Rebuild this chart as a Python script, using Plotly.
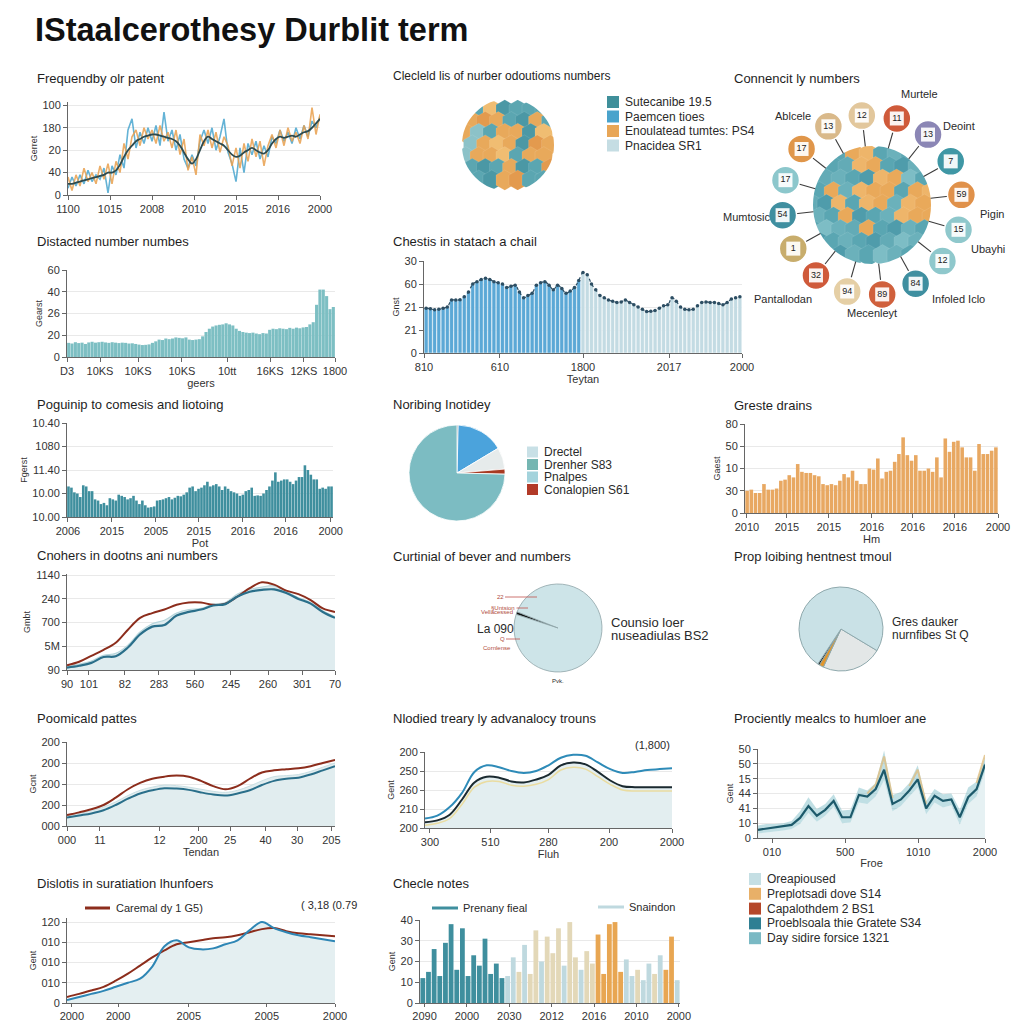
import math
import plotly.graph_objects as go

W = H = 1024
OFF = 8  # page body margin compensation
FONT = "Liberation Sans, Arial, sans-serif"

# ---------------- DATA ----------------
# P1 Frequendby olr patent
p1_trend = [0.5,0.5,0.55,0.6,0.65,0.7,0.75,0.8,0.85,0.9,1.0,1.0,1.1,1.35,1.7,2.0,2.2,2.4,2.5,2.6,
            2.65,2.7,2.7,2.65,2.6,2.55,2.5,2.4,2.2,1.9,1.6,1.4,1.6,2.0,2.4,2.6,2.5,2.4,2.3,2.2,
            2.0,1.8,1.7,1.75,1.9,2.0,2.1,2.0,1.9,1.85,2.0,2.3,2.5,2.6,2.55,2.6,2.65,2.6,2.7,2.8,
            2.85,3.0,3.2,3.4]
p1_blue = [0.3,0.8,0.4,0.9,0.5,1.1,0.6,0.9,0.7,1.2,0.1,1.3,0.9,1.8,1.2,2.9,3.4,2.1,2.8,2.3,
           3.0,2.4,3.1,2.2,3.7,2.4,2.9,2.0,2.7,1.6,1.2,1.8,1.3,2.4,2.9,2.3,3.0,2.0,2.6,3.4,
           1.9,1.4,0.6,2.1,1.0,2.3,1.8,2.4,1.6,2.2,1.7,2.6,2.3,2.9,2.4,2.8,2.3,3.0,2.5,3.1,
           2.6,3.3,3.0,3.5]
p1_orange = [0.8,0.2,0.9,0.4,1.2,0.6,1.0,0.5,1.3,0.7,1.4,0.5,1.5,1.0,2.3,1.6,2.6,2.9,2.2,3.0,
             2.5,2.9,2.3,3.1,2.4,2.8,2.1,2.9,1.8,2.5,1.1,1.7,0.9,2.7,2.2,2.9,2.1,2.8,1.9,2.6,
             2.2,1.3,2.1,1.2,2.3,1.5,2.5,1.7,2.4,1.3,2.2,2.7,2.1,2.9,2.2,3.0,2.4,2.8,2.3,3.1,
             2.5,3.9,2.7,3.6]
p1_xticks = ["1100","1015","2008","2010","2015","2016","2000"]
p1_yticks = ["0","40","20","180","100"]

# P2 mosaic disc (patch colour codes, rows top -> bottom)
p2_codes = [[0,0,5,3,0,0,0],
            [1,4,1,0,3,1,0],
            [1,2,0,1,1,3,5],
            [2,1,5,1,3,4,1],
            [2,1,1,5,0,1,1],
            [0,3,0,1,3,0,4],
            [0,0,3,1,4,0,0]]
p2_palette = ['#5ba6b1','#e8a95b','#8cc2c8','#4b98a5','#e39a4e','#f0bd72']
p2_xticks = ["0/0","5/17","2000"]
p2_yticks = ["0","16","20","30","60","80"]
p2_legend = ["Sutecanibe 19.5","Paemcen tioes","Enoulatead tumtes: PS4","Pnacidea SR1"]
p2_legend_colors = ['#3f8f9a','#4aa3cc','#e8a657','#c5dde3']

# P3 globe (patch colour codes, rows top -> bottom)
p3_codes = [[0,1,0,4,5,0,1,0,6],
            [1,0,6,5,4,0,2,1,0],
            [2,6,1,0,2,5,4,3,0],
            [0,4,1,5,4,4,0,4,5],
            [6,2,5,0,5,4,1,5,4],
            [1,0,4,2,0,1,5,4,4],
            [0,3,1,6,4,0,2,1,0],
            [2,0,1,0,2,6,3,1,2],
            [0,1,2,1,0,3,1,0,6]]
p3_palette = ['#5aa6b2','#6bb1bb','#4f9cab','#7dbdc5','#e9a95a','#eeb56a','#63abb6']
p3_values = ["13","12","11","13","7","59","15","12","84","89","94","32","1","54","17","17"]
p3_colors = ['#d9b98a','#e2c79c','#cf5a3a','#8b86b5','#3f97a5','#e0914a','#8fc8cc','#8fc8cc',
             '#3f8fa0','#d0603c','#e5cfa5','#cf5a3a','#c8ad6c','#3f8fa0','#8cc7cc','#e0964a']
p3_names = ["Murtele","Ablcele","Deoint","Mumtosic","Pigin","Ubayhi","Pantallodan","Infoled Iclo","Mecenleyt"]

# P4 Distacted number numbes
p4_vals = [0.65,0.62,0.68,0.64,0.66,0.6,0.67,0.7,0.66,0.68,
           0.7,0.67,0.65,0.68,0.66,0.64,0.66,0.65,0.62,0.63,
           0.6,0.57,0.55,0.56,0.58,0.65,0.72,0.8,0.78,0.85,
           0.82,0.85,0.9,0.88,0.86,0.9,0.8,0.78,0.8,0.82,
           0.95,1.15,1.3,1.4,1.45,1.48,1.5,1.55,1.5,1.45,
           1.3,1.2,1.15,1.12,1.1,1.12,1.08,1.05,1.1,1.08,
           1.25,1.3,1.28,1.32,1.3,1.28,1.34,1.3,1.35,1.32,
           1.36,1.38,1.5,1.6,2.4,3.1,3.1,2.8,2.2,2.3]
p4_xticks = ["D3","10KS","10KS","10KS","10tt","16KS","12KS","1800"]
p4_yticks = ["0","20","26","40","60"]

# P5 Chestis in statach a chail
p5_blue = [1.95,1.92,1.88,1.9,1.95,2.0,2.3,2.3,2.32,2.45,
           2.65,3.0,3.1,3.2,3.25,3.2,3.1,3.05,3.0,2.85,
           2.9,2.95,2.65,2.4,2.5,2.6,2.95,3.05,3.1,2.95,
           2.75,2.95,2.8,2.6,2.7,2.85,3.15]
p5_light = [3.5,3.4,3.0,2.75,2.5,2.4,2.3,2.25,2.2,2.22,
            2.3,2.2,2.1,2.0,1.9,1.8,1.82,1.85,1.95,2.05,
            2.1,2.4,2.25,2.0,1.9,1.88,1.9,2.05,2.2,2.22,
            2.2,2.2,2.15,2.1,2.2,2.35,2.4,2.45]
p5_xticks = ["810","610","1800","2017","2000"]
p5_yticks = ["0","21","21","60","30"]

# P6 Poguinip to comesis and liotoing
p6_vals = [1.3,1.25,1.05,1.0,0.85,1.35,1.3,1.1,1.1,0.75,
           0.7,0.55,0.6,0.5,0.8,0.75,0.7,0.95,0.9,0.85,
           0.75,0.8,0.9,0.7,0.55,0.7,0.5,0.4,0.42,0.45,
           0.7,0.72,0.75,0.8,0.85,0.75,0.82,0.9,0.88,0.95,
           1.05,1.25,1.3,1.1,1.2,1.25,1.35,1.5,1.3,1.35,
           1.4,1.3,1.15,1.3,1.2,1.1,1.05,1.0,0.9,0.95,
           1.1,1.15,1.25,0.9,0.92,0.9,1.0,1.15,1.3,1.55,
           1.9,1.5,1.55,1.6,1.6,1.5,1.4,1.55,1.7,1.7,
           2.2,2.0,1.8,1.6,1.6,1.2,1.25,1.2,1.3,1.3]
p6_xticks = ["2006","2015","2005","2015","2016","2016","2000"]
p6_yticks = ["10.00","10.00","11.40","1080","10.40"]

# P7 Noribing Inotidey (pie)
p7_labels = ["edge","blue","grey","red","teal"]
p7_values = [0.4, 16.0, 7.3, 1.7, 74.6]
p7_colors = ['#1c2b33','#4ba3dc','#e6ebeb','#a83a22','#7cbcc2']
p7_legend = ["Drectel","Drenher S83","Pnalpes","Conalopien S61"]
p7_legend_colors = ['#c8e0e6','#75b6b2','#a3d3dc','#b23a28']

# P8 Greste drains
p8_vals = [1.0,1.05,0.9,0.9,1.3,1.05,1.05,1.1,1.45,1.5,
           1.7,1.6,2.2,1.85,1.8,1.8,1.7,1.65,1.3,1.25,
           1.3,1.25,1.45,1.75,1.6,1.9,1.45,1.3,1.3,2.0,
           1.95,2.45,1.55,1.85,1.9,2.3,2.65,3.4,2.6,2.35,
           2.6,1.9,1.9,2.0,1.85,2.5,1.6,3.35,2.75,3.2,
           3.25,2.95,2.5,2.5,1.9,3.1,2.65,2.65,2.8,2.95]
p8_xticks = ["2010","2015","2015","2016","2016","2016","2000"]
p8_yticks = ["0","30","10","50","80"]

# P9 Cnohers in dootns ani numbers
p9_red = [0.2,0.35,0.6,0.85,1.15,1.7,2.2,2.4,2.55,2.75,2.85,2.85,2.75,2.8,3.1,3.45,3.7,3.6,3.35,3.2,2.95,2.6,2.45]
p9_teal = [0.1,0.18,0.3,0.55,0.58,0.95,1.5,1.83,1.9,2.3,2.45,2.55,2.72,2.78,3.1,3.3,3.38,3.4,3.25,3.0,2.8,2.45,2.2]
p9_band = [0.15,0.25,0.38,0.62,0.7,1.05,1.6,1.95,2.1,2.4,2.55,2.6,2.78,2.85,3.2,3.4,3.5,3.55,3.3,3.05,2.85,2.5,2.25]
p9_xticks = ["90","101","82","283","560","245","260","301","70"]
p9_yticks = ["90","5M","700","240","1140"]

# P10 Curtinial of bever and numbers (dial)
p10_values = [1.0, 99.0]
p10_colors = ['#111111','#cde4e8']
p10_labels = ["22","§Untsion","Vellacessed","Q","Cornlense"]

# P11 Prop loibing hentnest tmoul
p11_values = [23.3, 1.7, 0.7, 74.3]
p11_colors = ['#e3e7e7','#e0962e','#1a1a1a','#c9e1e6']
p11_yticks = ["10","20","4","30","40"]

# P12 Poomicald pattes
p12_red = [0.52,0.65,0.8,1.0,1.35,1.75,2.05,2.25,2.35,2.4,2.35,2.15,1.9,1.75,1.9,2.25,2.55,2.65,2.7,2.75,2.85,3.0,3.15]
p12_teal = [0.4,0.5,0.6,0.75,1.0,1.3,1.55,1.7,1.8,1.78,1.72,1.6,1.5,1.45,1.55,1.7,1.95,2.15,2.25,2.3,2.45,2.65,2.85]
p12_band = [0.5,0.6,0.72,0.9,1.15,1.45,1.7,1.85,1.95,1.92,1.85,1.75,1.65,1.6,1.7,1.9,2.15,2.35,2.4,2.45,2.6,2.8,3.0]
p12_xticks = ["000","11","12","200","25","40","30","205"]
p12_yticks = ["000","200","200","200","200"]

# P13 Nlodied treary ly advanalocy trouns
p13_blue = [0.5,0.65,1.1,1.85,2.95,3.3,3.2,3.0,2.9,3.0,3.3,3.7,3.85,3.8,3.45,3.1,2.9,2.95,3.05,3.1,3.15]
p13_black = [0.3,0.4,0.7,1.5,2.4,2.7,2.65,2.45,2.4,2.55,2.8,3.3,3.45,3.35,2.95,2.5,2.2,2.15,2.15,2.15,2.15]
p13_yellow = [0.15,0.25,0.5,1.25,2.15,2.45,2.45,2.25,2.2,2.3,2.55,3.05,3.2,3.1,2.7,2.3,2.0,1.95,1.95,1.95,1.95]
p13_xticks = ["300","510","280","200","2000"]
p13_yticks = ["200","210","260","250","200"]

# P14 Prociently mealcs to humloer ane
p14_line = [0.55,0.63,0.7,0.78,0.88,1.35,2.15,1.5,1.9,2.5,1.4,1.4,2.9,2.8,3.3,4.6,2.3,2.6,3.2,3.95,2.0,2.85,2.5,2.6,1.4,2.75,3.3,4.95]
p14_upper = [0.85,0.95,0.95,1.0,1.15,1.8,2.75,1.95,2.3,2.95,1.85,1.9,3.4,3.2,3.7,5.9,2.9,3.1,3.7,4.9,2.5,3.3,2.95,3.0,1.9,3.4,3.8,5.4]
p14_lower = [0.3,0.35,0.45,0.5,0.6,0.95,1.7,1.1,1.5,2.1,1.0,1.05,2.4,2.3,2.8,3.9,1.8,2.15,2.8,3.4,1.6,2.4,2.05,2.2,0.9,2.3,2.8,4.5]
p14_warm = [None,None,None,None,None,None,None,None,None,None,None,None,None,3.0,3.6,5.5,2.7,None,3.5,4.6,2.3,None,None,None,None,None,3.7,5.6]
p14_xticks = ["010","500","1010","2000"]
p14_yticks = ["0","10","41","44","15","50","50"]
p14_legend = ["Oreapioused","Preplotsadi dove S14","Capalothdem 2 BS1","Proeblsoala thie Gratete S34","Day sidire forsice 1321"]
p14_legend_colors = ['#c5dfe4','#e8b068','#b5472a','#2f7f93','#7ab9c4']

# P15 Dislotis in suratiation lhunfoers
p15_red = [0.3,0.45,0.62,0.8,1.1,1.45,1.85,2.25,2.6,2.9,3.0,3.1,3.2,3.25,3.35,3.5,3.65,3.7,3.55,3.45,3.4,3.35,3.3]
p15_blue = [0.15,0.3,0.45,0.6,0.8,1.0,1.2,1.8,2.8,3.1,2.75,2.65,2.7,2.9,3.1,3.6,4.0,3.7,3.5,3.35,3.25,3.15,3.05]
p15_xticks = ["2000","2000","2005","2005","2000"]
p15_yticks = ["0","010","010","010","120"]

# P16 Checle notes
p16_vals = [1.2,1.5,2.6,1.3,2.9,3.8,1.6,3.6,1.3,2.3,1.8,3.1,1.4,1.9,1.2,
            1.3,2.2,1.5,2.8,1.4,3.5,2.0,3.2,2.4,3.6,1.8,3.9,2.2,1.6,2.5,1.9,
            3.3,1.4,3.8,3.9,1.5,2.1,1.3,1.6,1.1,1.9,1.4,2.3,1.6,3.2,1.1]
p16_group = [0,0,0,0,0,0,0,0,0,0,0,0,0,0,0,
             2,2,1,2,1,1,2,1,1,1,2,1,1,2,1,1,
             3,3,3,3,3,2,2,1,2,2,1,2,3,3,2]
p16_palette = ['#3f8f9e','#e3d8b8','#bfd9df','#e8a652']
p16_xticks = ["2090","2000","2030","2012","2016","2010","2000"]
p16_yticks = ["0","10","20","30","40"]

# ---------------- FIGURE ----------------
fig = go.Figure()
annotations = []
shapes = []


def PX(a):
    return (a - OFF) / W


def PY(b):
    return 1 - (b - OFF) / H


AX = dict(showline=True, linecolor='#666', linewidth=1, ticks='outside', ticklen=4,
          tickcolor='#666', tickfont=dict(size=11, color='#333', family=FONT),
          zeroline=False, fixedrange=True, automargin=False, tickangle=0)


def refs(n):
    return ('x' if n == 1 else f'x{n}'), ('y' if n == 1 else f'y{n}')


def add_panel(n, left, top, right, bottom, xr, yr, xt=None, yt=None, xtitle=None,
              ytitle=None, grid=True, xshow=True, visible=True):
    xk = 'xaxis' if n == 1 else f'xaxis{n}'
    yk = 'yaxis' if n == 1 else f'yaxis{n}'
    xr_, yr_ = refs(n)
    if not visible:
        fig.update_layout({xk: dict(domain=[PX(left), PX(right)], range=xr, anchor=yr_, visible=False,
                                    fixedrange=True, automargin=False),
                           yk: dict(domain=[PY(bottom), PY(top)], range=yr, anchor=xr_, visible=False,
                                    fixedrange=True, automargin=False)})
        return
    xa = dict(AX)
    xa.update(domain=[PX(left), PX(right)], range=xr, anchor=yr_, showgrid=False, showline=xshow)
    if xt is not None:
        xa.update(tickmode='array', tickvals=xt[0], ticktext=xt[1])
    if xtitle:
        xa.update(title=dict(text=xtitle, font=dict(size=11, color='#333', family=FONT), standoff=2))
    ya = dict(AX)
    ya.update(domain=[PY(bottom), PY(top)], range=yr, anchor=xr_, showgrid=grid, gridcolor='#e9e9e9')
    if yt is not None:
        ya.update(tickmode='array', tickvals=yt[0], ticktext=yt[1])
    if ytitle:
        ya.update(title=dict(text=ytitle, font=dict(size=9, color='#333', family=FONT), standoff=3))
    fig.update_layout({xk: xa, yk: ya})


def title(text, x, y, size=13):
    annotations.append(dict(text=text, x=PX(x), y=PY(y), xref='paper', yref='paper',
                            xanchor='left', yanchor='middle', showarrow=False, borderpad=0,
                            font=dict(size=size, color='#1e1e1e', family=FONT)))


def label(text, x, y, size=12, color='#2a2a2a', anchor='left'):
    annotations.append(dict(text=text, x=PX(x), y=PY(y), xref='paper', yref='paper',
                            xanchor=anchor, yanchor='middle', showarrow=False, borderpad=0,
                            font=dict(size=size, color=color, family=FONT)))


def legend_block(names, colors, x, y0, dy, size=13, fsize=12):
    for i, (nm, c) in enumerate(zip(names, colors)):
        yc = y0 + i * dy
        shapes.append(dict(type='rect', xref='paper', yref='paper',
                           x0=PX(x), x1=PX(x + size), y0=PY(yc + size / 2), y1=PY(yc - size / 2),
                           fillcolor=c, line=dict(width=0)))
        label(nm, x + size + 5, yc, size=fsize)


def line_key(x0, x1, y, color, width=3):
    shapes.append(dict(type='line', xref='paper', yref='paper', x0=PX(x0), x1=PX(x1),
                       y0=PY(y), y1=PY(y), line=dict(color=color, width=width)))


def hex_mosaic(xa, ya, codes, palette, radius, step):
    """Honeycomb of colour patches inside a disc (axis units = pixels, disc centred at 0,0)."""
    rows = len(codes)
    xs, ys, cs = [], [], []
    for i, row in enumerate(codes):
        cols = len(row)
        for j, c in enumerate(row):
            x = (j - (cols - 1) / 2 + (0.25 if i % 2 else -0.25)) * step
            y = ((rows - 1) / 2 - i) * step * 0.9
            if math.hypot(x, y) <= radius + step * 0.45:
                xs.append(x); ys.append(y); cs.append(palette[c])
    fig.add_trace(go.Scatter(x=xs, y=ys, xaxis=xa, yaxis=ya, mode='markers', cliponaxis=False,
                             marker=dict(symbol='hexagon', size=step * 1.55, color=cs,
                                         line=dict(color='rgba(255,255,255,0.2)', width=0.5)),
                             showlegend=False, hoverinfo='skip'))
    ring = 20
    fig.add_trace(go.Scatter(x=[0], y=[0], xaxis=xa, yaxis=ya, mode='markers', cliponaxis=False,
                             marker=dict(symbol='circle', size=2 * radius + ring, color='rgba(0,0,0,0)',
                                         line=dict(color='white', width=ring)),
                             showlegend=False, hoverinfo='skip'))


# ---- main title
annotations.append(dict(text="<b>IStaalcerothesy Durblit term</b>", x=PX(34), y=PY(30), xref='paper',
                        yref='paper', xanchor='left', yanchor='middle', showarrow=False, borderpad=0,
                        font=dict(size=32.5, color='#111', family=FONT)))

# ---- P1
n1 = len(p1_trend)
add_panel(1, 68, 102, 320, 195, [0, n1 - 1], [0, 4.15],
          xt=([k * (n1 - 1) / 6 for k in range(7)], p1_xticks), yt=(list(range(5)), p1_yticks), ytitle="Gerret")
xs = list(range(n1))
fig.add_trace(go.Scatter(x=xs, y=p1_blue, mode='lines', line=dict(color='#4aa6cf', width=1.6), opacity=0.85, showlegend=False))
fig.add_trace(go.Scatter(x=xs, y=p1_orange, mode='lines', line=dict(color='#e9a04e', width=1.6), opacity=0.85, showlegend=False))
fig.add_trace(go.Scatter(x=xs, y=p1_trend, mode='lines', line=dict(color='#2c4a4f', width=1.8, shape='spline'), showlegend=False))
title("Frequendby olr patent", 36, 78)

# ---- P2
add_panel(2, 422, 102, 591, 192, [0, 2], [0, 5],
          xt=([0, 1, 2], p2_xticks), yt=(list(range(6)), p2_yticks), ytitle="Gnss")
add_panel(15, 462, 99, 554, 191, [-46, 46], [-46, 46], visible=False)
hex_mosaic('x15', 'y15', p2_codes, p2_palette, 46, 13)
title("Clecleld lis of nurber odoutioms numbers", 392, 76, size=12)
legend_block(p2_legend, p2_legend_colors, 607, 102, 14.5, size=12, fsize=12)

# ---- P3 globe
add_panel(3, 740, 80, 1010, 330, [-132, 138], [-125, 125], visible=False)
hex_mosaic('x3', 'y3', p3_codes, p3_palette, 59, 14)
nb = len(p3_values)
R = 90
bx, by, lx, ly = [], [], [], []
for i in range(nb):
    a = math.radians(119 - 22.5 * i)
    bx.append(R * math.cos(a)); by.append(R * math.sin(a))
    lx += [59 * math.cos(a), 77 * math.cos(a), None]
    ly += [59 * math.sin(a), 77 * math.sin(a), None]
fig.add_trace(go.Scatter(x=lx, y=ly, xaxis='x3', yaxis='y3', mode='lines',
                         line=dict(color='#3b3b3b', width=1.1), showlegend=False, hoverinfo='skip'))
fig.add_trace(go.Scatter(x=bx, y=by, xaxis='x3', yaxis='y3', mode='markers',
                         marker=dict(size=28, color=p3_colors, line=dict(color='white', width=1.5)),
                         showlegend=False, hoverinfo='skip'))
fig.add_trace(go.Scatter(x=bx, y=by, xaxis='x3', yaxis='y3', mode='markers+text', text=p3_values,
                         textfont=dict(size=9, color='#222', family=FONT),
                         marker=dict(size=14, symbol='square', color='rgba(255,255,255,0.92)'),
                         showlegend=False, hoverinfo='skip'))
title("Connencit ly numbers", 733, 78)
for nm, (x, y) in zip(p3_names, [(919, 94), (793, 116), (959, 126), (747, 217), (992, 214),
                                 (988, 249), (783, 299), (958, 299), (872, 313)]):
    label(nm, x, y, size=11, anchor='center')

# ---- P4
n4 = len(p4_vals)
add_panel(4, 67, 270, 335, 357, [-0.5, n4 - 0.5], [0, 4],
          xt=([-0.5, 9.35, 20.7, 33.8, 47.3, 60.1, 70.2, 79.5], p4_xticks),
          yt=(list(range(5)), p4_yticks), xtitle="geers", ytitle="Gearst")
fig.add_trace(go.Bar(x=list(range(n4)), y=p4_vals, xaxis='x4', yaxis='y4', width=0.92,
                     marker=dict(color='#7dbfc3', line=dict(width=0)), showlegend=False))
title("Distacted number numbes", 36, 241)

# ---- P5
p5_all = p5_blue + p5_light
n5 = len(p5_all)
add_panel(5, 424, 261, 742, 353, [-0.5, n5 - 0.5], [0, 4],
          xt=([-0.5, 17.4, 37.0, 57.3, 74.5], p5_xticks), yt=(list(range(5)), p5_yticks),
          xtitle="Teytan", ytitle="Gnst")
fig.add_trace(go.Bar(x=list(range(len(p5_blue))), y=p5_blue, xaxis='x5', yaxis='y5', width=0.9,
                     marker=dict(color='#5ba8d6', line=dict(color='rgba(255,255,255,0.7)', width=0.6)), showlegend=False))
fig.add_trace(go.Bar(x=list(range(len(p5_blue), n5)), y=p5_light, xaxis='x5', yaxis='y5', width=0.9,
                     marker=dict(color='#c3dbe3', line=dict(color='rgba(255,255,255,0.8)', width=0.6)), showlegend=False))
fig.add_trace(go.Scatter(x=list(range(n5)), y=p5_all, xaxis='x5', yaxis='y5', mode='lines+markers',
                         line=dict(color='#2d4e63', width=1.2, dash='dot', shape='spline'),
                         marker=dict(size=3.5, color='#2d4e63'), showlegend=False))
title("Chestis in statach a chail", 392, 241)

# ---- P6
n6 = len(p6_vals)
add_panel(6, 67, 423, 333, 517, [-0.5, n6 - 0.5], [0, 4],
          xt=([-0.2, 14.7, 29.6, 44.1, 59.0, 73.5, 88.7], p6_xticks),
          yt=(list(range(5)), p6_yticks), xtitle="Pot", ytitle="Fgerst")
fig.add_trace(go.Bar(x=list(range(n6)), y=p6_vals, xaxis='x6', yaxis='y6', width=0.88,
                     marker=dict(color='#3f8f9e', line=dict(width=0)), showlegend=False))
title("Poguinip to comesis and liotoing", 36, 404)

# ---- P7 pie
fig.add_trace(go.Pie(labels=p7_labels, values=p7_values, sort=False, direction='clockwise', rotation=0,
                     marker=dict(colors=p7_colors, line=dict(color='white', width=0.8)),
                     textinfo='none', hoverinfo='skip', showlegend=False,
                     domain=dict(x=[PX(409), PX(505)], y=[PY(521), PY(425)])))
title("Noribing Inotidey", 392, 404)
legend_block(p7_legend, p7_legend_colors, 527, 452, 12.5, size=11, fsize=12)

# ---- P8
n8 = len(p8_vals)
add_panel(7, 745, 424, 998, 513, [-0.5, n8 - 0.5], [0, 4],
          xt=([-0.03, 9.45, 19.4, 29.6, 39.3, 49.3, 59.5], p8_xticks),
          yt=(list(range(5)), p8_yticks), xtitle="Hm", ytitle="Gaest")
fig.add_trace(go.Bar(x=list(range(n8)), y=p8_vals, xaxis='x7', yaxis='y7', width=0.85,
                     marker=dict(color='#e8a862', line=dict(width=0)), showlegend=False))
title("Greste drains", 733, 405)

# ---- P9
n9 = len(p9_red)
add_panel(8, 67, 574, 335, 670, [0, n9 - 1], [0, 4.05],
          xt=([0, 1.8, 4.76, 7.55, 10.5, 13.46, 16.5, 19.3, 22], p9_xticks),
          yt=(list(range(5)), p9_yticks), ytitle="Gmbt")
x9 = list(range(n9))
fig.add_trace(go.Scatter(x=x9, y=p9_band, xaxis='x8', yaxis='y8', mode='lines', fill='tozeroy',
                         fillcolor='#dfecef', line=dict(color='#b7d6dc', width=1.2, shape='spline'), showlegend=False))
fig.add_trace(go.Scatter(x=x9, y=p9_red, xaxis='x8', yaxis='y8', mode='lines',
                         line=dict(color='#8c2d1c', width=2, shape='spline'), showlegend=False))
fig.add_trace(go.Scatter(x=x9, y=p9_teal, xaxis='x8', yaxis='y8', mode='lines',
                         line=dict(color='#2a6f8a', width=2.2, shape='spline'), showlegend=False))
title("Cnohers in dootns ani numbers", 36, 555)

# ---- P10 dial
fig.add_trace(go.Pie(values=p10_values, sort=False, direction='clockwise', rotation=288,
                     marker=dict(colors=p10_colors, line=dict(color='#8fa5a8', width=0.8)),
                     textinfo='none', hoverinfo='skip', showlegend=False,
                     domain=dict(x=[PX(514), PX(602)], y=[PY(672), PY(584)])))
title("Curtinial of bever and numbers", 392, 556)
for txt, (tx, ty), (px, py) in zip(p10_labels,
                                   [(500, 597), (503, 604), (497, 612), (502, 639), (497, 648)],
                                   [(537, 597), (528, 608), (None, None), (520, 639), (None, None)]):
    if px is None:
        label(txt, tx, ty, size=6, color='#b04a3a', anchor='center')
    else:
        annotations.append(dict(text=txt, x=PX(px), y=PY(py), xref='paper', yref='paper',
                                ax=tx - px, ay=0, axref='pixel', showarrow=True, arrowhead=0,
                                arrowwidth=0.8, arrowcolor='#c0504d',
                                font=dict(size=6, color='#b04a3a', family=FONT)))
label("La 090", 495, 629, size=12, anchor='center')
label("Pvk.", 558, 681, size=6, anchor='center')
label("Counsio loer", 610, 622, size=13)
label("nuseadiulas BS2", 610, 635, size=13)

# ---- P11
add_panel(9, 753, 585, 877, 669, [0, 1], [0, 4], xt=([0.02], ["00"]),
          yt=(list(range(5)), p11_yticks), ytitle="Ocest", xshow=False)
fig.update_layout(xaxis9=dict(ticks=''))
fig.add_trace(go.Pie(values=p11_values, sort=False, direction='clockwise', rotation=121,
                     marker=dict(colors=p11_colors, line=dict(color='#8fa9ad', width=1)),
                     textinfo='none', hoverinfo='skip', showlegend=False,
                     domain=dict(x=[PX(799), PX(883)], y=[PY(671), PY(587)])))
title("Prop loibing hentnest tmoul", 733, 556)
label("Gres dauker", 891, 622, size=12)
label("nurnfibes St Q", 891, 635, size=12)

# ---- P12
n12 = len(p12_red)
add_panel(10, 67, 742, 335, 826, [0, n12 - 1], [0, 4],
          xt=([0, 2.7, 7.6, 10.8, 13.4, 16.3, 18.9, 21.7], p12_xticks),
          yt=(list(range(5)), p12_yticks), xtitle="Tendan", ytitle="Gcnt")
x12 = list(range(n12))
fig.add_trace(go.Scatter(x=x12, y=p12_band, xaxis='x10', yaxis='y10', mode='lines', fill='tozeroy',
                         fillcolor='#e1edef', line=dict(color='#c9dfe3', width=1, shape='spline'), showlegend=False))
fig.add_trace(go.Scatter(x=x12, y=p12_red, xaxis='x10', yaxis='y10', mode='lines',
                         line=dict(color='#8c2d1c', width=2, shape='spline'), showlegend=False))
fig.add_trace(go.Scatter(x=x12, y=p12_teal, xaxis='x10', yaxis='y10', mode='lines',
                         line=dict(color='#2a6f8a', width=2, shape='spline'), showlegend=False))
title("Poomicald pattes", 36, 718)

# ---- P13
n13 = len(p13_blue)
add_panel(11, 425, 752, 672, 828, [0, n13 - 1], [0, 4],
          xt=([0.4, 5.3, 10, 14.9, 20], p13_xticks),
          yt=(list(range(5)), p13_yticks), xtitle="Fluh", ytitle="Gent")
x13 = list(range(n13))
fig.add_trace(go.Scatter(x=x13, y=p13_black, xaxis='x11', yaxis='y11', mode='lines', fill='tozeroy',
                         fillcolor='#e3eef0', line=dict(width=0, shape='spline'), showlegend=False))
fig.add_trace(go.Scatter(x=x13, y=p13_yellow, xaxis='x11', yaxis='y11', mode='lines',
                         line=dict(color='#eadca0', width=1.5, shape='spline'), showlegend=False))
fig.add_trace(go.Scatter(x=x13, y=p13_blue, xaxis='x11', yaxis='y11', mode='lines',
                         line=dict(color='#2e8bb8', width=2, shape='spline'), showlegend=False))
fig.add_trace(go.Scatter(x=x13, y=p13_black, xaxis='x11', yaxis='y11', mode='lines',
                         line=dict(color='#1b2a30', width=2, shape='spline'), showlegend=False))
title("Nlodied treary ly advanalocy trouns", 392, 718)
label("(1,800)", 652, 745, size=11, anchor='center')

# ---- P14
n14 = len(p14_line)
add_panel(12, 758, 749, 985, 838, [0, n14 - 1], [0, 6],
          xt=([1.67, 10.36, 19.05, 27], p14_xticks),
          yt=(list(range(7)), p14_yticks), xtitle="Froe", ytitle="Gent")
x14 = list(range(n14))
fig.add_trace(go.Scatter(x=x14, y=p14_lower, xaxis='x12', yaxis='y12', mode='lines', fill='tozeroy',
                         fillcolor='#e6f1f3', line=dict(width=0), showlegend=False))
fig.add_trace(go.Scatter(x=x14, y=p14_upper, xaxis='x12', yaxis='y12', mode='lines', fill='tonexty',
                         fillcolor='rgba(140,196,205,0.55)', line=dict(width=0), showlegend=False))
fig.add_trace(go.Scatter(x=x14, y=p14_warm, xaxis='x12', yaxis='y12', mode='lines',
                         line=dict(color='rgba(222,190,130,0.8)', width=2), connectgaps=False, showlegend=False))
fig.add_trace(go.Scatter(x=x14, y=p14_line, xaxis='x12', yaxis='y12', mode='lines',
                         line=dict(color='#1d5a6b', width=2.2), showlegend=False))
title("Prociently mealcs to humloer ane", 733, 718)
legend_block(p14_legend, p14_legend_colors, 749, 879, 14.8, size=12, fsize=12)

# ---- P15
n15 = len(p15_red)
add_panel(13, 67, 918, 335, 1003, [0, n15 - 1], [0, 4.2],
          xt=([0.4, 4.2, 10, 16.4, 22], p15_xticks),
          yt=(list(range(5)), p15_yticks), ytitle="Gent")
fig.update_layout(xaxis13=dict(ticklen=3))
x15 = list(range(n15))
fig.add_trace(go.Scatter(x=x15, y=p15_blue, xaxis='x13', yaxis='y13', mode='lines', fill='tozeroy',
                         fillcolor='#e4eff1', line=dict(width=0, shape='spline'), showlegend=False))
fig.add_trace(go.Scatter(x=x15, y=p15_red, xaxis='x13', yaxis='y13', mode='lines',
                         line=dict(color='#8c2d1c', width=2, shape='spline'), showlegend=False))
fig.add_trace(go.Scatter(x=x15, y=p15_blue, xaxis='x13', yaxis='y13', mode='lines',
                         line=dict(color='#2e86b5', width=2, shape='spline'), showlegend=False))
title("Dislotis in suratiation lhunfoers", 36, 883)
line_key(85, 110, 908, '#8c2d1c')
label("Caremal dy 1 G5)", 115, 908, size=11)
label("( 3,18 (0.79", 300, 905, size=11)

# ---- P16
n16 = len(p16_vals)
add_panel(14, 420, 920, 680, 1003, [-0.5, n16 - 0.5], [0, 4],
          xt=([0.3, 7.8, 15.3, 22.8, 30.3, 37.8, 45.3], p16_xticks),
          yt=(list(range(5)), p16_yticks), ytitle="Gent")
fig.update_layout(xaxis14=dict(ticklen=3))
fig.add_trace(go.Bar(x=list(range(n16)), y=p16_vals, xaxis='x14', yaxis='y14', width=0.85,
                     marker=dict(color=[p16_palette[g] for g in p16_group], line=dict(width=0)), showlegend=False))
title("Checle notes", 392, 883)
line_key(432, 458, 908, '#3f8f9e')
label("Prenany fieal", 462, 908, size=11)
line_key(598, 624, 907, '#bfd9df')
label("Snaindon", 628, 907, size=11)

# ---- layout
fig.update_layout(
    width=W, height=H, margin=dict(l=0, r=0, t=0, b=0, autoexpand=False),
    paper_bgcolor='white', plot_bgcolor='rgba(0,0,0,0)',
    font=dict(family=FONT, color='#333'),
    annotations=annotations, shapes=shapes, showlegend=False,
)

fig.write_html("out.html")
